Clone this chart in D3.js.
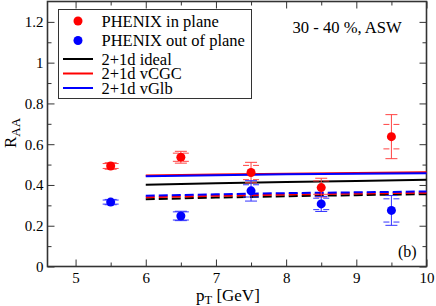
<!DOCTYPE html>
<html>
<head>
<meta charset="utf-8">
<script src="https://cdn.jsdelivr.net/npm/d3@7"></script>
<style>
  body { margin: 0; background: #fff; }
  svg text { font-family: "Liberation Serif", "DejaVu Serif", serif; }
</style>
</head>
<body>
<svg width="436" height="306"></svg>
<script>
// data
const ptData = [5.5, 6.5, 7.5, 8.5, 9.5];
const inPlane = [0.493, 0.536, 0.461, 0.387, 0.637];
const inPlaneStat = [0.012, 0.02, 0.035, 0.033, 0.06];
const inPlaneSys = [0.016, 0.029, 0.05, 0.046, 0.108];
const outPlane = [0.316, 0.248, 0.371, 0.307, 0.275];
const outPlaneStat = [0.01, 0.02, 0.03, 0.028, 0.057];
const outPlaneSys = [0.013, 0.023, 0.05, 0.037, 0.073];

const ptModel = [6, 7, 8, 9, 10];
const idealIn = [0.401, 0.408, 0.414, 0.420, 0.425];
const cgcIn = [0.446, 0.451, 0.455, 0.459, 0.462];
const glbIn = [0.443, 0.448, 0.452, 0.455, 0.458];
const idealOut = [0.330, 0.338, 0.345, 0.350, 0.355];
const cgcOut = [0.340, 0.347, 0.353, 0.358, 0.362];
const glbOut = [0.347, 0.354, 0.360, 0.364, 0.368];

const xTicks = [5, 6, 7, 8, 9, 10];
const yTicks = [0, 0.2, 0.4, 0.6, 0.8, 1, 1.2];

const FONT = "Liberation Serif, DejaVu Serif, serif";
const svg = d3.select("svg");

const x = d3.scaleLinear().domain([4.6, 10]).range([47.5, 426.5]);
const y = d3.scaleLinear().domain([0, 1.3]).range([266.5, 1.5]);

const xMinor = d3.range(4.5, 10.01, 0.5).filter(v => v > 4.6 && v % 1 !== 0);
const yMinor = d3.range(0.1, 1.3, 0.2);

// axes with inward ticks
function ticks(axis, vals, size, labels, pad) {
  return axis.tickValues(vals).tickSize(size).tickPadding(pad || 5)
    .tickFormat(labels ? d3.format("~g") : "");
}

const gx = svg.append("g").attr("transform", "translate(0,266.5)");
gx.call(ticks(d3.axisBottom(x), xTicks, -7, true, 5.5));
gx.append("g").call(ticks(d3.axisBottom(x), xMinor, -4, false));

const gxt = svg.append("g").attr("transform", "translate(0,1.5)");
gxt.call(ticks(d3.axisTop(x), xTicks, -7, false));
gxt.append("g").call(ticks(d3.axisTop(x), xMinor, -4, false));

const gy = svg.append("g").attr("transform", "translate(47.5,0)");
gy.call(ticks(d3.axisLeft(y), yTicks, -7, true, 4));
gy.append("g").call(ticks(d3.axisLeft(y), yMinor, -4, false));

const gyr = svg.append("g").attr("transform", "translate(426.5,0)");
gyr.call(ticks(d3.axisRight(y), yTicks, -7, false));
gyr.append("g").call(ticks(d3.axisRight(y), yMinor, -4, false));

svg.selectAll("g").attr("font-family", FONT);
svg.selectAll(".domain").remove();
svg.selectAll(".tick line").attr("stroke", "#333").attr("stroke-width", 1);
svg.selectAll(".tick text").attr("font-size", 15).attr("fill", "#000");

svg.append("rect")
  .attr("x", 47.5).attr("y", 1.5)
  .attr("width", 379).attr("height", 265)
  .attr("fill", "none").attr("stroke", "#333").attr("stroke-width", 1.6);

// model curves
const line = d3.line().x((d, i) => x(ptModel[i])).y(d => y(d));
const curves = [
  [idealOut, "#000", true], [cgcOut, "#f00", true], [glbOut, "#00f", true],
  [idealIn, "#000", false], [cgcIn, "#f00", false], [glbIn, "#00f", false]
];
curves.forEach(c => {
  svg.append("path")
    .attr("d", line(c[0]))
    .attr("fill", "none")
    .attr("stroke", c[1])
    .attr("stroke-width", 2)
    .attr("stroke-dasharray", c[2] ? "9,4" : null);
});

// data points with error bars
function drawSeries(vals, stat, sys, color, errColor) {
  const g = svg.append("g");
  ptData.forEach((p, i) => {
    const cx = x(p);
    const hi = Math.max(stat[i], sys[i]);
    g.append("line")
      .attr("x1", cx).attr("x2", cx)
      .attr("y1", y(vals[i] - hi)).attr("y2", y(vals[i] + hi))
      .attr("stroke", errColor).attr("stroke-width", 1);
    [stat[i], sys[i]].forEach((e, k) => {
      [-1, 1].forEach(s => {
        g.append("line")
          .attr("x1", cx - (k ? 6 : 8)).attr("x2", cx + (k ? 6 : 8))
          .attr("y1", y(vals[i] + s * e)).attr("y2", y(vals[i] + s * e))
          .attr("stroke", errColor).attr("stroke-width", 1)
          .attr("stroke-dasharray", k ? null : "6,4");
      });
    });
    g.append("circle")
      .attr("cx", cx).attr("cy", y(vals[i]))
      .attr("r", 4.5).attr("fill", color);
  });
}
drawSeries(inPlane, inPlaneStat, inPlaneSys, "#f00", "#f44");
drawSeries(outPlane, outPlaneStat, outPlaneSys, "#00f", "#33f");

// legend
const leg = svg.append("g").attr("font-family", FONT);
leg.append("rect")
  .attr("x", 58.5).attr("y", 9.5).attr("width", 193).attr("height", 89)
  .attr("fill", "#fff").attr("stroke", "#333").attr("stroke-width", 1);
const legItems = [
  ["PHENIX in plane", "#f00", "dot", 21],
  ["PHENIX out of plane", "#00f", "dot", 40.5],
  ["2+1d ideal", "#000", "line", 59],
  ["2+1d vCGC", "#f00", "line", 73.5],
  ["2+1d vGlb", "#00f", "line", 88]
];
legItems.forEach(d => {
  if (d[2] === "dot") {
    leg.append("circle").attr("cx", 78).attr("cy", d[3]).attr("r", 4.5).attr("fill", d[1]);
  } else {
    leg.append("line").attr("x1", 63).attr("x2", 93).attr("y1", d[3]).attr("y2", d[3])
      .attr("stroke", d[1]).attr("stroke-width", 2);
  }
  leg.append("text").attr("x", 101.5).attr("y", d[3] + 5.5)
    .attr("font-family", FONT).attr("font-size", 16.5).text(d[0]);
});

svg.append("text").attr("x", 292.5).attr("y", 33)
  .attr("font-family", FONT).attr("font-size", 16.6).text("30 - 40 %, ASW");
svg.append("text").attr("x", 398).attr("y", 256.5)
  .attr("font-family", FONT).attr("font-size", 16).text("(b)");

// axis titles
const xt = svg.append("text").attr("x", 196).attr("y", 300.5)
  .attr("font-family", FONT).attr("font-size", 17);
xt.append("tspan").text("p");
xt.append("tspan").attr("font-size", 12.5).attr("dy", 3).text("T");
xt.append("tspan").attr("dy", -3).text(" [GeV]");

const yt = svg.append("text").attr("transform", "translate(16,148) rotate(-90)")
  .attr("font-family", FONT).attr("font-size", 17);
yt.append("tspan").text("R");
yt.append("tspan").attr("font-size", 13).attr("dy", 4).text("AA");
</script>
</body>
</html>
